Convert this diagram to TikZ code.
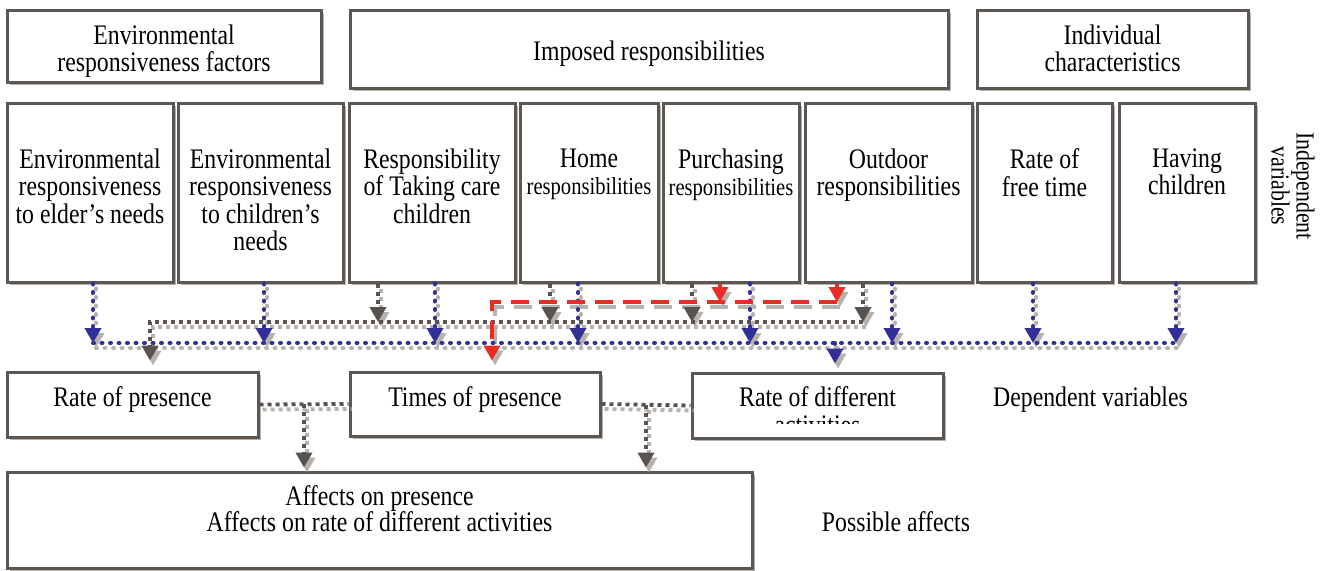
\documentclass[tikz,border=0pt]{standalone}
\usepackage{fontspec}
\setmainfont{Liberation Serif}[FakeStretch=0.84]
\usetikzlibrary{arrows.meta,calc,shadows}

\definecolor{boxgray}{RGB}{92,87,83}
\definecolor{shadegray}{RGB}{184,178,172}
\definecolor{linkblue}{RGB}{48,48,150}
\definecolor{linkgray}{RGB}{88,83,80}
\definecolor{linkred}{RGB}{232,45,38}

\tikzset{
  varbox/.style={draw=boxgray,line width=3pt,fill=white,inner sep=0pt,
    drop shadow={shadow xshift=3pt,shadow yshift=-3pt,fill=shadegray,opacity=1}},
  txt/.style={font=\fontsize{28.3}{27.5}\selectfont,align=center,inner sep=0pt,anchor=north},
  bluelink/.style={color=linkblue,line width=4pt,line cap=round,dash pattern=on 1pt off 7.5pt},
  graylink/.style={color=linkgray,line width=3.8pt,dash pattern=on 4pt off 4pt},
  redlink/.style={color=linkred,line width=3.8pt,dash pattern=on 18pt off 10pt},
  arr/.style={-{Triangle[length=15pt,width=16pt]}},
  sh/.style={color=shadegray,transform canvas={xshift=3pt,yshift=-5pt}},
  fg/.style={}
}

\begin{document}
\begin{tikzpicture}[x=1pt,y=-1pt]
\useasboundingbox (0,0) rectangle (1332,570);

% groups of factors
\node[varbox,minimum width=314pt,minimum height=72pt] (envf) at (164,46) {};
\node[varbox,minimum width=598pt,minimum height=78pt] (imposed) at (649,49) {};
\node[varbox,minimum width=271pt,minimum height=78pt] (indiv) at (1112.5,49) {};
\node[txt] (envf-t) at ([yshift=-16pt]envf.north) {Environmental\\responsiveness factors};
\node[txt] (imposed-t) at ([yshift=-32pt]imposed.north) {Imposed responsibilities};
\node[txt] (indiv-t) at ([yshift=-16pt]indiv.north) {Individual\\characteristics};

% independent variables
\foreach \n/\x/\w in {elder/90/166,child/260.5/165,care/432/166,home/589/138,
  purch/731/136,outdoor/888.5/167,freet/1044.5/135,having/1187/136}
  \node[varbox,minimum width=\w pt,minimum height=179pt] (\n) at (\x,192.5) {};
\node[txt] (elder-t) at ([yshift=-47pt]elder.north) {Environmental\\responsiveness\\to elder’s needs};
\node[txt] (child-t) at ([yshift=-47pt]child.north) {Environmental\\responsiveness\\to children’s\\needs};
\node[txt] (care-t) at ([yshift=-47pt]care.north) {Responsibility\\of Taking care\\children};
\node[txt] (home-t) at ([yshift=-47pt]home.north) {Home\\{\fontsize{24.5}{27.5}\selectfont responsibilities}};
\node[txt] (purch-t) at ([yshift=-47pt]purch.north) {Purchasing\\{\fontsize{24.5}{27.5}\selectfont responsibilities}};
\node[txt] (outdoor-t) at ([yshift=-47pt]outdoor.north) {Outdoor\\responsibilities};
\node[txt] (freet-t) at ([yshift=-47pt]freet.north) {Rate of\\free time};
\node[txt] (having-t) at ([yshift=-47pt]having.north) {Having\\children};
\node[txt,font=\fontsize{26}{25}\selectfont,rotate=-90,anchor=center] (indep) at (1293,186) {Independent\\variables};

% dependent variables
\node[varbox,minimum width=251pt,minimum height=65pt] (rpres) at (132.5,404.5) {};
\node[varbox,minimum width=250pt,minimum height=64pt] (tpres) at (475,404) {};
\node[varbox,minimum width=251pt,minimum height=65pt] (rdiff) at (817.5,405.5) {};
\node[txt] (rpres-t) at ([yshift=-16pt]rpres.north) {Rate of presence};
\node[txt] (tpres-t) at ([yshift=-16pt]tpres.north) {Times of presence};
\begin{scope}
  \clip (rdiff.north west) rectangle ([yshift=-52pt]rdiff.north east);
  \node[txt] (rdiff-t) at ([yshift=-15pt]rdiff.north) {Rate of different\\activities};
\end{scope}
\node[txt] (dep) at (1090.5,387) {Dependent variables};

% affects
\node[varbox,minimum width=745pt,minimum height=96pt] (affects) at (379.5,520) {};
\node[txt,font=\fontsize{28.3}{26}\selectfont] (affects-t) at ([yshift=-15pt]affects.north) {Affects on presence\\Affects on rate of different activities};
\node[txt] (poss) at (896,511) {Possible affects};

\coordinate (redbus) at (0,302);
\coordinate (graybus) at (0,322);
\coordinate (bluebus) at (0,343);
\coordinate (m1) at ($(rpres.east)!0.5!(tpres.west)$);
\coordinate (m2) at ($(tpres.east)!0.5!(rdiff.west)$);

% links, shadow first
\foreach \lay in {sh,fg}{
  \foreach \n/\dx in {elder/3,child/3.5,care/3,home/-11,purch/19,outdoor/3.5,freet/-11.5,having/-11}
    \draw[bluelink,arr,\lay] ([xshift=\dx pt]\n.south) -- ([xshift=\dx pt]\n.south |- bluebus);
  \draw[bluelink,\lay] ([xshift=3pt]elder.south |- bluebus) -- ([xshift=-11pt]having.south |- bluebus);
  \draw[bluelink,arr,\lay,shorten >=8pt] ([xshift=17.5pt]rdiff.north |- bluebus) -- ([xshift=17.5pt]rdiff.north);

  \foreach \n/\dx in {care/-54,home/-39,purch/-39,outdoor/-25.5}
    \draw[graylink,arr,\lay] ([xshift=\dx pt]\n.south) -- ([xshift=\dx pt]\n.south |- graybus);
  \draw[graylink,arr,\lay,shorten >=10pt] ([xshift=-25.5pt]outdoor.south |- graybus)
    -- ([xshift=17.5pt]rpres.north |- graybus) -- ([xshift=17.5pt]rpres.north);

  \foreach \n/\dx in {purch/-11,outdoor/-51.5}
    \draw[redlink,arr,\lay] ([xshift=\dx pt]\n.south) -- ([xshift=\dx pt]\n.south |- redbus);
  \draw[redlink,arr,\lay,shorten >=10pt] ([xshift=-51.5pt]outdoor.south |- redbus)
    -- ([xshift=17pt]tpres.north |- redbus) -- ([xshift=17pt]tpres.north);

  \draw[graylink,\lay] (rpres.east) -- (tpres.west);
  \draw[graylink,\lay] (tpres.east) -- (rdiff.west);
  \draw[graylink,arr,\lay,shorten >=3pt] (m1) -- (m1 |- affects.north);
  \draw[graylink,arr,\lay,shorten >=3pt] (m2) -- (m2 |- affects.north);
}
\end{tikzpicture}
\end{document}
